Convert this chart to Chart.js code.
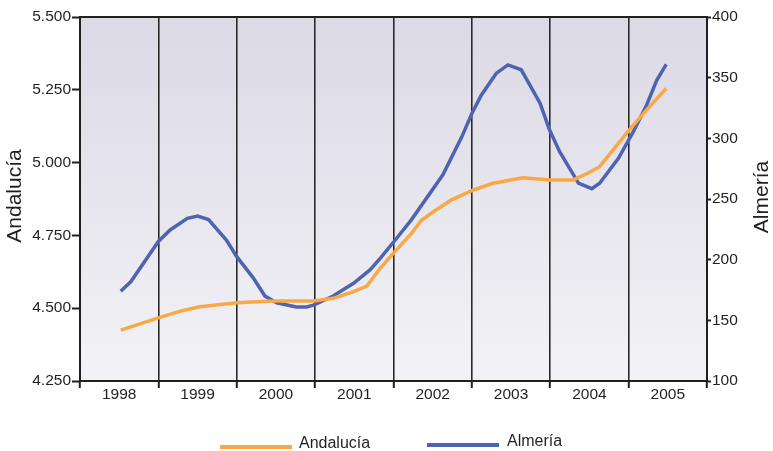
<!DOCTYPE html>
<html>
<head>
<meta charset="utf-8">
<script src="https://cdn.jsdelivr.net/npm/chart.js@4"></script>
<style>
html,body{margin:0;padding:0;background:#fff;}
#wrap{width:773px;height:451px;position:relative;}
</style>
</head>
<body>
<div id="wrap"><canvas id="c" width="773" height="451"></canvas></div>
<script>
// ---- data ----
const years = [1998, 1999, 2000, 2001, 2002, 2003, 2004, 2005];
const seriesNames = ["Andalucía", "Almería"];
const leftTicks = [4.25, 4.5, 4.75, 5.0, 5.25, 5.5];
const rightTicks = [100, 150, 200, 250, 300, 350, 400];

const andaluciaX = [1998.52, 1999.00, 1999.28, 1999.53, 2000.00, 2000.47, 2000.98, 2001.23, 2001.49, 2001.66, 2001.83, 2002.00, 2002.23, 2002.36, 2002.51, 2002.74, 2003.02, 2003.27, 2003.65, 2004.00, 2004.29, 2004.46, 2004.63, 2004.80, 2004.99, 2005.23, 2005.48];
const andaluciaY = [4.425, 4.467, 4.490, 4.505, 4.519, 4.525, 4.525, 4.534, 4.557, 4.576, 4.637, 4.689, 4.757, 4.803, 4.831, 4.872, 4.906, 4.929, 4.948, 4.940, 4.940, 4.961, 4.986, 5.043, 5.106, 5.181, 5.255];

const almeriaX = [1998.52, 1998.65, 1999.00, 1999.15, 1999.37, 1999.50, 1999.64, 1999.87, 2000.00, 2000.21, 2000.36, 2000.51, 2000.76, 2000.89, 2000.98, 2001.23, 2001.49, 2001.70, 2001.83, 2002.02, 2002.23, 2002.63, 2002.87, 2003.00, 2003.12, 2003.31, 2003.46, 2003.63, 2003.87, 2003.99, 2004.12, 2004.36, 2004.53, 2004.63, 2004.87, 2005.06, 2005.23, 2005.36, 2005.48];
const almeriaY = [174, 182, 215, 224.5, 234, 236, 233, 216, 202.5, 185, 170, 164.5, 161, 161, 162.5, 170, 180.5, 191.5, 201, 216, 233, 270, 301, 320.5, 335.5, 353.5, 360.5, 356.5, 329, 307, 289, 263, 258.5, 263, 283.5, 305.5, 327.5, 348, 361];

const toPts = (xs, ys) => xs.map((x, i) => ({x: x, y: ys[i]}));

const FONT = "'Liberation Sans', Arial, Helvetica, sans-serif";
const DARK = '#231f20';
const COLORS = ['#f9a845', '#4e64b0'];

const bgPlugin = {
  id: 'bg',
  beforeDraw(chart) {
    const {ctx, chartArea: a} = chart;
    const g = ctx.createLinearGradient(0, a.top, 0, a.bottom);
    g.addColorStop(0, '#dbdae5');
    g.addColorStop(1, '#f3f2f6');
    ctx.save();
    ctx.fillStyle = g;
    ctx.fillRect(a.left, a.top, a.right - a.left, a.bottom - a.top);
    ctx.restore();
  },
  afterDraw(chart) {
    const {ctx, chartArea: a} = chart;
    ctx.save();
    // top frame line
    ctx.strokeStyle = DARK;
    ctx.lineWidth = 2;
    ctx.beginPath();
    ctx.moveTo(a.left - 1, a.top);
    ctx.lineTo(a.right + 1, a.top);
    ctx.stroke();
    // axis titles
    ctx.fillStyle = DARK;
    ctx.font = '21px ' + FONT;
    ctx.textAlign = 'center';
    ctx.textBaseline = 'middle';
    ctx.save();
    ctx.translate(15, 196);
    ctx.rotate(-Math.PI / 2);
    ctx.fillText(seriesNames[0], 0, 0);
    ctx.restore();
    ctx.save();
    ctx.translate(762, 197);
    ctx.rotate(-Math.PI / 2);
    ctx.fillText(seriesNames[1], 0, 0);
    ctx.restore();
    // legend
    ctx.font = '16px ' + FONT;
    ctx.textAlign = 'left';
    const items = [
      {x0: 220, x1: 292, y: 447, tx: 299, ty: 444},
      {x0: 427, x1: 499, y: 445, tx: 507, ty: 442}
    ];
    items.forEach((it, i) => {
      ctx.strokeStyle = COLORS[i];
      ctx.lineWidth = 4;
      ctx.beginPath();
      ctx.moveTo(it.x0, it.y);
      ctx.lineTo(it.x1, it.y);
      ctx.stroke();
      ctx.fillStyle = DARK;
      ctx.fillText(seriesNames[i], it.tx, it.ty);
    });
    ctx.restore();
  }
};

new Chart(document.getElementById('c'), {
  type: 'line',
  data: {
    datasets: [
      {label: seriesNames[0], data: toPts(andaluciaX, andaluciaY), yAxisID: 'y', borderColor: COLORS[0], backgroundColor: COLORS[0], borderWidth: 3.5, pointRadius: 0, tension: 0},
      {label: seriesNames[1], data: toPts(almeriaX, almeriaY), yAxisID: 'y1', borderColor: COLORS[1], backgroundColor: COLORS[1], borderWidth: 3.5, pointRadius: 0, tension: 0}
    ]
  },
  options: {
    responsive: false,
    animation: false,
    layout: {padding: {top: 17, left: 0, right: 0, bottom: 0}},
    plugins: {legend: {display: false}, tooltip: {enabled: false}},
    scales: {
      x: {
        type: 'linear',
        min: years[0],
        max: years[years.length - 1] + 1,
        afterBuildTicks(scale) {
          const t = [];
          years.forEach(y => { t.push({value: y}); t.push({value: y + 0.5}); });
          t.push({value: years[years.length - 1] + 1});
          scale.ticks = t;
        },
        afterFit(scale) { scale.height = 70; },
        ticks: {
          autoSkip: false, maxRotation: 0, minRotation: 0, padding: -3,
          color: DARK, font: {family: FONT, size: 15.5},
          callback: (v) => (Math.abs(v % 1 - 0.5) < 1e-6 ? String(Math.floor(v)) : '')
        },
        grid: {
          drawOnChartArea: true, drawTicks: true, tickLength: 7, lineWidth: 1.6,
          color: (c) => {
            const v = c.tick && c.tick.value;
            if (v === undefined) return 'transparent';
            if (Math.abs(v % 1) > 1e-6) return 'transparent';
            if (v === years[0] || v === years[years.length - 1] + 1) return 'transparent';
            return '#2a2a2a';
          },
          tickColor: (c) => {
            const v = c.tick && c.tick.value;
            return (v !== undefined && Math.abs(v % 1) < 1e-6) ? DARK : 'transparent';
          },
          tickWidth: 2
        },
        border: {display: true, color: DARK, width: 2}
      },
      y: {
        position: 'left',
        min: leftTicks[0], max: leftTicks[leftTicks.length - 1],
        afterBuildTicks(scale) { scale.ticks = leftTicks.map(v => ({value: v})); },
        afterFit(scale) { scale.width = 80; },
        ticks: {
          padding: 1, color: DARK, font: {family: FONT, size: 15.5},
          callback: (v) => v.toFixed(3)
        },
        grid: {drawOnChartArea: false, drawTicks: true, tickLength: 8, tickColor: DARK, tickWidth: 2},
        border: {display: true, color: DARK, width: 2}
      },
      y1: {
        position: 'right',
        min: rightTicks[0], max: rightTicks[rightTicks.length - 1],
        afterBuildTicks(scale) { scale.ticks = rightTicks.map(v => ({value: v})); },
        afterFit(scale) { scale.width = 66; },
        ticks: {
          padding: 1, color: DARK, font: {family: FONT, size: 15.5},
          callback: (v) => String(v)
        },
        grid: {drawOnChartArea: false, drawTicks: true, tickLength: 4, tickColor: DARK, tickWidth: 2},
        border: {display: true, color: DARK, width: 2}
      }
    }
  },
  plugins: [bgPlugin]
});
</script>
</body>
</html>
